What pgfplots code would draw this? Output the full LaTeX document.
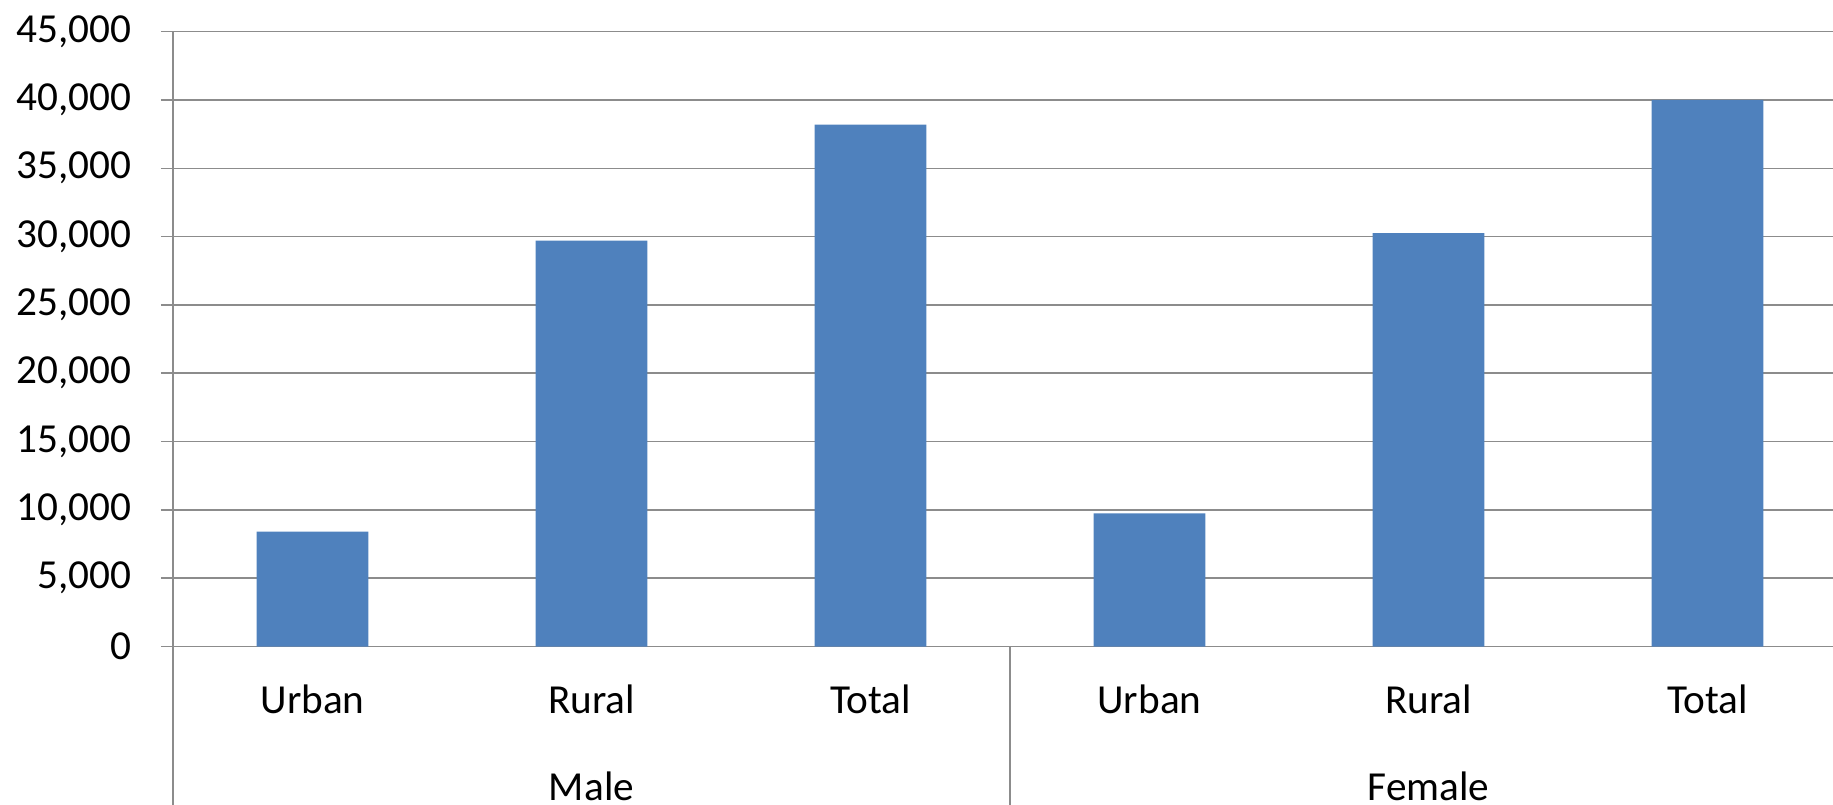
\documentclass[border=0pt]{standalone}
\usepackage{pgfplots}
\pgfplotsset{compat=1.18}
\usepackage{fontspec}
\setmainfont{Carlito}
\definecolor{barblue}{HTML}{4F81BD}
\definecolor{gridgray}{HTML}{8C8C8C}
\begin{document}
\fontsize{16.5pt}{19pt}\selectfont
\begin{tikzpicture}
\begin{axis}[
  at={(0,0)}, anchor=south west, scale only axis,
  width=664pt, height=245.96pt,
  xmin=-0.5, xmax=5.45, ymin=0, ymax=45000,
  ytick={0,5000,...,45000},
  xtick={0,1,2,3,4,5},
  xticklabels={Urban,Rural,Total,Urban,Rural,Total},
  scaled y ticks=false,
  /pgf/number format/.cd, 1000 sep={,}, assume math mode=true, /pgfplots/.cd,
  axis lines*=left,
  axis line style={gridgray, line width=0.6pt},
  ymajorgrids,
  grid style={gridgray, line width=0.6pt},
  tick align=outside,
  major tick length=4.8pt,
  ytick style={gridgray, line width=0.6pt},
  xtick style={draw=none},
  tick label style={font=\fontsize{16.5pt}{19pt}\selectfont, text=black},
  yticklabel style={anchor=east, inner sep=0pt, xshift=-11.6pt},
  xticklabel style={anchor=base, inner sep=0pt, yshift=-21.9pt},
  clip=false,
  ybar, bar width=0.4,
]
\addplot[fill=barblue, draw=none] coordinates {
  (0,8400) (1,29700) (2,38200) (3,9750) (4,30250) (5,40000)
};
\draw[gridgray, line width=0.6pt] (axis cs:-0.5,0) -- ++(0pt,-80pt);
\draw[gridgray, line width=0.6pt] (axis cs:2.5,0) -- ++(0pt,-80pt);
\node[anchor=base, inner sep=0pt, font=\fontsize{16.5pt}{19pt}\selectfont] at ([yshift=-61.4pt]axis cs:1,0) {Male};
\node[anchor=base, inner sep=0pt, font=\fontsize{16.5pt}{19pt}\selectfont] at ([yshift=-61.4pt]axis cs:4,0) {Female};
\end{axis}
\pgfresetboundingbox
\path[use as bounding box] (-69.2pt,-63pt) rectangle (664pt,258.6pt);
\end{tikzpicture}
\end{document}
